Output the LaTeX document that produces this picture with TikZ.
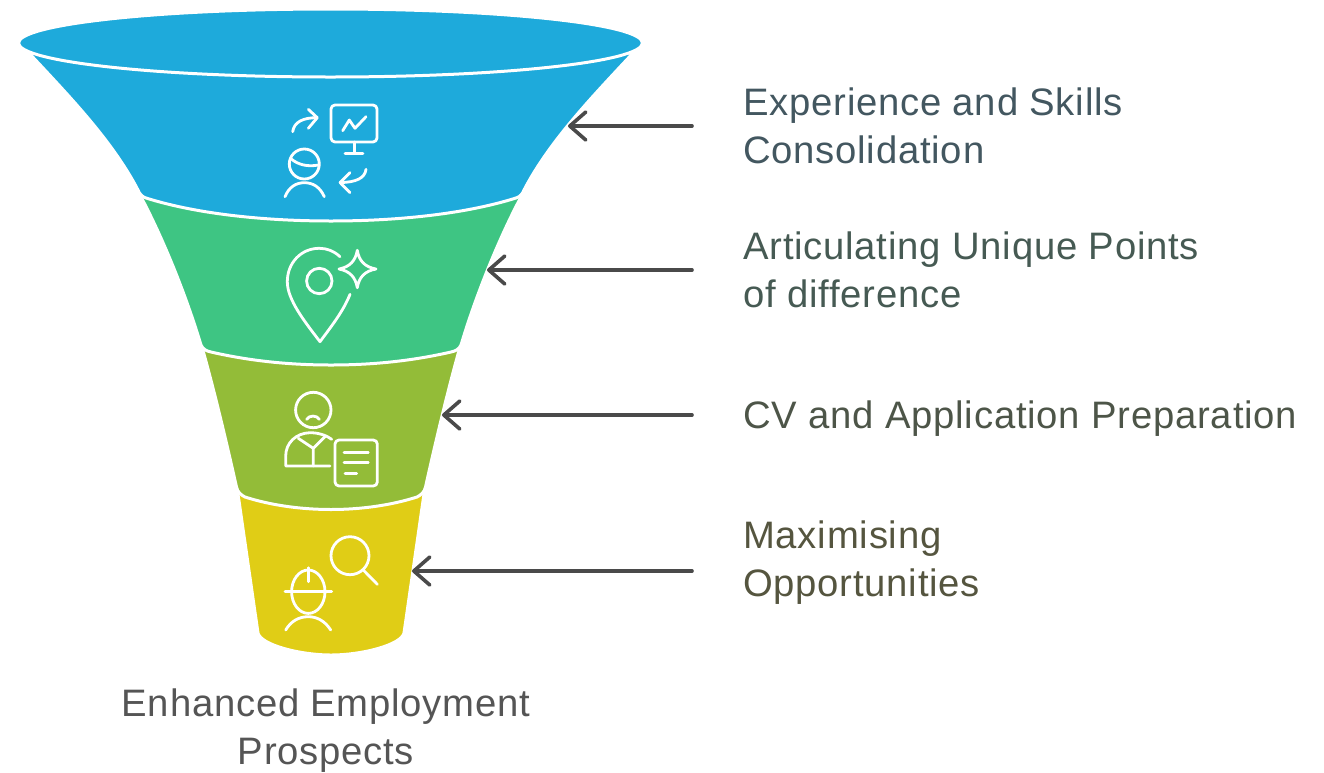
\documentclass[tikz,border=0pt]{standalone}
\usepackage{fontspec}
\setmainfont[LetterSpace=2]{Liberation Sans}
\usetikzlibrary{arrows.meta}
\definecolor{cblue}{HTML}{1EAADB}
\definecolor{cgreen}{HTML}{3EC583}
\definecolor{colive}{HTML}{93BC38}
\definecolor{cyellow}{HTML}{E0CD16}
\definecolor{cptr}{HTML}{4A4A4A}
\definecolor{tone}{HTML}{435760}
\definecolor{ttwo}{HTML}{465A53}
\definecolor{tthree}{HTML}{4D5548}
\definecolor{tfour}{HTML}{55553F}
\definecolor{tfive}{HTML}{555555}
\tikzset{
  section/.style={draw=white,line width=2.25pt,line join=round},
  iconline/.style={draw=white,line width=2.1pt,line cap=round,line join=round},
  pointer/.style={draw=cptr,line width=2.7pt,line cap=round,
    -{Straight Barb[length=12pt,width=21pt,line cap=round,line join=round]}},
  lab/.style={anchor=west,inner sep=0pt,align=left,font=\fontsize{28.7}{36}\selectfont},
}
\begin{document}
\begin{tikzpicture}[x=0.75pt,y=-0.75pt]
\useasboundingbox (0,0) rectangle (1324,772);
% funnel sections, bottom first
\fill[cyellow,section] (236,480) -- (258,633) .. controls (261,645) and (300,655) .. (331,655)
  .. controls (362,655) and (401,645) .. (404,633) -- (426,480) -- cycle;
\fill[colive,section] (200,340) .. controls (213,385) and (226,440) .. (236.5,487)
  .. controls (237.5,492) and (241,495) .. (245,497) .. controls (270,505) and (300,509.5) .. (331,509.5)
  .. controls (362,509.5) and (392,505) .. (417,497) .. controls (421,495) and (424.5,492) .. (425.5,487)
  .. controls (436,440) and (449,385) .. (462,340) -- cycle;
\fill[cgreen,section] (140,195) .. controls (163,238) and (186,295) .. (201,345)
  .. controls (203,349) and (206,351) .. (211,352) .. controls (250,361) and (290,365) .. (331,365)
  .. controls (372,365) and (412,361) .. (451,352) .. controls (456,351) and (459,349) .. (461,345)
  .. controls (476,295) and (499,238) .. (522,195) -- cycle;
\fill[cblue,section] (29,53) .. controls (68,95) and (112,140) .. (138,190)
  .. controls (139,193) and (142,197) .. (146,198) .. controls (200,215) and (270,221) .. (331,221)
  .. controls (392,221) and (462,215) .. (516,198) .. controls (520,197) and (523,193) .. (524,190)
  .. controls (550,140) and (594,95) .. (633,53) -- (331,40) -- cycle;
\fill[cblue,section] (330.5,43) ellipse [x radius=312,y radius=34];
% icon 1
\draw[iconline,rounded corners=3pt] (331,105) rectangle (377,142);
\draw[iconline] (354.3,142) -- (354.3,153.3) (345,153.3) -- (363,153.3);
\draw[iconline] (342.7,130.7) -- (349.3,120) -- (355,128.3) -- (366,116.7);
\draw[iconline] (292.7,131.7) .. controls (294,122) and (303,117.7) .. (316.7,117.7);
\draw[iconline] (308.3,109.3) -- (317.3,117.7) -- (308.3,128.3);
\draw[iconline] (304.3,164) circle [radius=15];
\draw[iconline] (290.7,158.5) .. controls (298,165) and (308,167) .. (318.5,165);
\draw[iconline] (285,196.7) .. controls (289,187) and (296,182.7) .. (304.3,182.7) .. controls (313,182.7) and (320,187) .. (324.3,196.7);
\draw[iconline] (366,169.3) .. controls (365,178) and (356,182.5) .. (340,182.5);
\draw[iconline] (350,172.7) -- (340,182.5) -- (350,192.7);
% icon 2
\draw[iconline] (340,256.7) .. controls (334,251) and (327,248.3) .. (319.3,248.3)
  .. controls (301,248.3) and (287.3,263) .. (287.3,281.7)
  .. controls (287.3,300) and (305,322) .. (320,341.7)
  .. controls (330,328) and (343,312) .. (350,294.3);
\draw[iconline] (319.3,281) circle [radius=12.7];
\draw[iconline] (357.3,250.3) .. controls (359,261) and (365,267) .. (376,269)
  .. controls (365,271) and (359,277) .. (357.3,287.7)
  .. controls (355.5,277) and (349.5,271) .. (339,269)
  .. controls (349.5,267) and (355.5,261) .. cycle;
% icon 3
\draw[iconline] (313.3,410) circle [radius=17.7];
\draw[iconline] (306.7,419.3) .. controls (309,415) and (317,415) .. (319.3,419.3);
\draw[iconline] (331.7,439.3) .. controls (326,435) and (318,432.7) .. (310,432.7)
  .. controls (296,433) and (285.7,443) .. (285.7,456) -- (285.7,466) -- (330,466);
\draw[iconline] (298.3,438.3) -- (313.3,448.3) -- (325,436.7) (313.3,448.3) -- (313.3,466);
\draw[iconline,rounded corners=3pt] (335,440) rectangle (377.3,486);
\draw[iconline] (344,452.7) -- (368.3,452.7) (344,462.7) -- (368.3,462.7) (345,473.3) -- (356.7,473.3);
% icon 4
\draw[iconline] (350,555.7) circle [radius=19];
\draw[iconline] (363.3,570) -- (377.3,584.3);
\draw[iconline] (308.3,591.7) ellipse [x radius=16.7,y radius=21.7];
\draw[iconline] (285,591.7) -- (331.7,591.7) (308.3,567.7) -- (308.3,581.7);
\draw[iconline] (285.7,630) .. controls (291,621) and (299,616.7) .. (308.3,616.7) .. controls (317,616.7) and (325,621) .. (330.7,630);
% labels
\node[lab,text=tone] (l1) at (743,126) {Experience and Skills\\Consolidation};
\node[lab,text=ttwo] (l2) at (743,270) {Articulating Unique Points\\of difference};
\node[lab,text=tthree] (l3) at (743,418.5) {CV and Application Preparation};
\node[lab,text=tfour] (l4) at (743,563) {Maximising\\Opportunities};
\node[inner sep=0pt,align=center,anchor=center,text=tfive,font=\fontsize{28.7}{36}\selectfont] (l5) at (326,730.5) {Enhanced Employment\\Prospects};
% connectors
\coordinate (s1) at (692,126); \coordinate (t1) at (568,126);
\coordinate (s2) at (692,270); \coordinate (t2) at (487,270);
\coordinate (s3) at (692,415); \coordinate (t3) at (442,415);
\coordinate (s4) at (692,571); \coordinate (t4) at (412,571);
\draw[pointer] (s1) -- (t1);
\draw[pointer] (s2) -- (t2);
\draw[pointer] (s3) -- (t3);
\draw[pointer] (s4) -- (t4);
\end{tikzpicture}
\end{document}
